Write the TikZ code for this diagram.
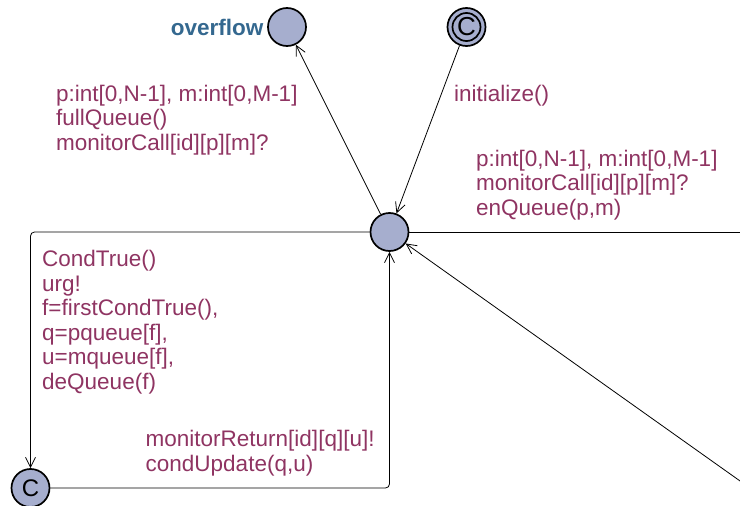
\documentclass[tikz,border=0pt]{standalone}
\usepackage{fontspec}
\setmainfont{Liberation Sans}
\usetikzlibrary{arrows.meta}
\definecolor{locfill}{RGB}{166,174,206}
\definecolor{lblcol}{RGB}{143,52,98}
\definecolor{namecol}{RGB}{52,104,143}
\tikzset{
	loc/.style={circle,draw,line width=1.7pt,fill=locfill,minimum size=38pt,inner sep=0pt},
	trans/.style={draw,line width=0.8pt,-{Straight Barb[length=10pt,width=10pt]}},
	lbl/.style={inner sep=0pt,anchor=base west,text=lblcol,font=\fontsize{22.5}{24.5}\selectfont},
}
\begin{document}
\begin{tikzpicture}[x=1pt,y=-1pt]
	\useasboundingbox (0,0) rectangle (740,506);
	% Definir los lugares
	\node[loc] (main) at (389.5,232) {};
	\node[loc] (ovf) at (287,27) {};
	\node[loc] (init) at (466.5,27) {\fontsize{26}{26}\selectfont C};
	\draw[line width=1.7pt] (init) circle[radius=14pt];
	\node[loc] (cmt) at (30.5,488) {\fontsize{24}{24}\selectfont C};
	\node[inner sep=0pt,anchor=base east,text=namecol,font=\bfseries\fontsize{22.5}{24}\selectfont] (ovfname) at (263.5,35) {overflow};
	\coordinate (exitR) at (745,232);
	\coordinate (entryR) at (745,484.5);
	% Transiciones
	\draw[trans] (main) -- (ovf);
	\draw[trans] (init) -- (main);
	\draw[line width=0.8pt] (main) -- (exitR);
	\draw[trans] (entryR) -- (main);
	\draw[trans,rounded corners=4pt] (main) -| (cmt);
	\draw[trans,rounded corners=4pt] (cmt) -| (main);
	% Etiquetas
	\node[lbl] (lblovf) at (56,101.5) {%
		\begin{tabular}[t]{@{}l@{}}
			p:int[0,N-1], m:int[0,M-1]\\
			fullQueue()\\
			monitorCall[id][p][m]?
		\end{tabular}
	};
	\node[lbl] (lblinit) at (454,101) {initialize()};
	\node[lbl] (lblenq) at (476,166) {%
		\begin{tabular}[t]{@{}l@{}}
			p:int[0,N-1], m:int[0,M-1]\\
			monitorCall[id][p][m]?\\
			enQueue(p,m)
		\end{tabular}
	};
	\node[lbl] (lbldeq) at (42,266.5) {%
		\begin{tabular}[t]{@{}l@{}}
			CondTrue()\\
			urg!\\
			f=firstCondTrue(),\\
			q=pqueue[f],\\
			u=mqueue[f],\\
			deQueue(f)
		\end{tabular}
	};
	\node[lbl] (lblret) at (145.5,446.5) {%
		\begin{tabular}[t]{@{}l@{}}
			monitorReturn[id][q][u]!\\
			condUpdate(q,u)
		\end{tabular}
	};
\end{tikzpicture}
\end{document}
